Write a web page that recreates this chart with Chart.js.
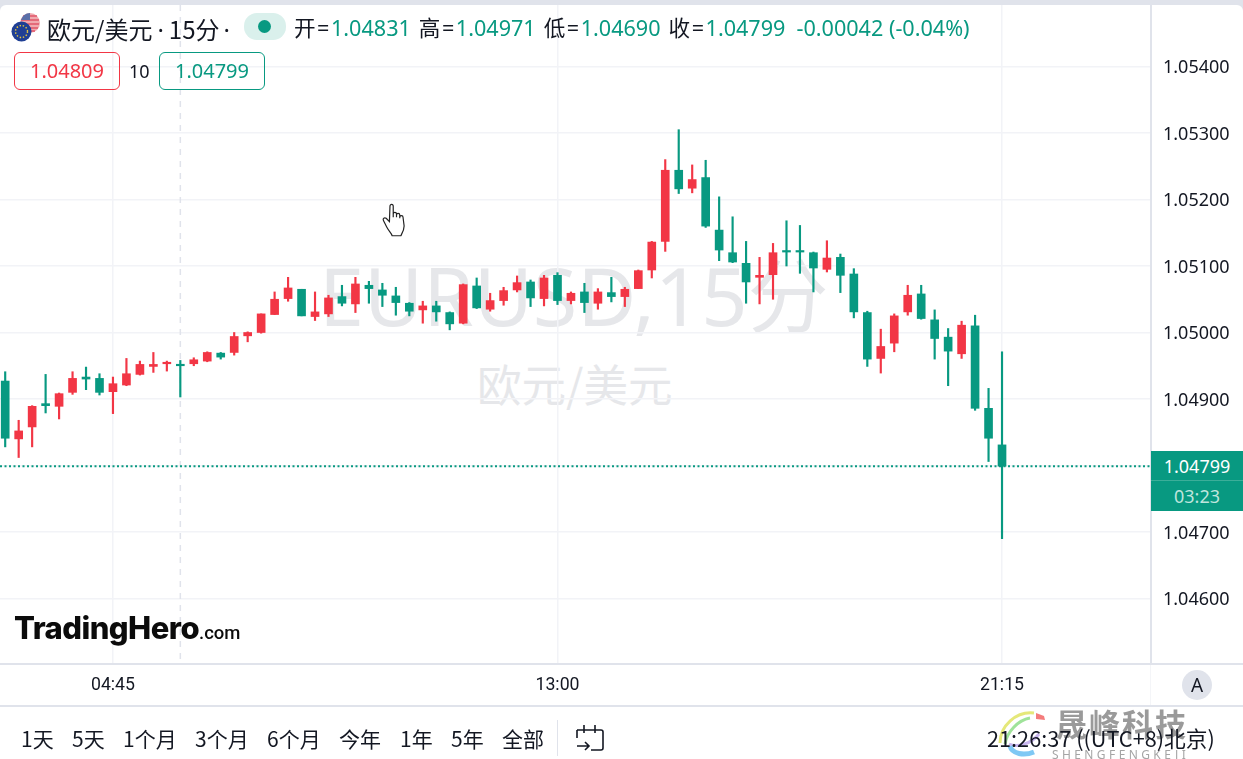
<!DOCTYPE html>
<html lang="zh-CN">
<head>
<meta charset="utf-8">
<title>EURUSD 15分</title>
<script src="https://cdn.jsdelivr.net/npm/chart.js@4"></script>
<style>
    html, body { margin: 0; padding: 0; background: #fff; }
    #page { position: relative; width: 1243px; height: 759px; overflow: hidden; background: #e0e3eb; }
    #panel { position: absolute; left: 0; top: 5px; width: 1243px; height: 754px; background: #fff; border-radius: 6px 6px 0 0; }
    #chart { position: absolute; left: 0; top: 0; }
    .t { position: absolute; white-space: nowrap; font-family: "Noto Sans", "Noto Sans CJK SC", sans-serif; color: #131722; }
    .line { position: absolute; background: #e0e3eb; }
    .up { color: #f23645; }
    .down { color: #089981; }
    .box { position: absolute; box-sizing: border-box; border: 1.5px solid; border-radius: 6px; height: 38px; text-align: center; font: 20px/35px "Noto Sans", sans-serif; }
    #ohlc b { font-weight: 400; letter-spacing: 1.5px; margin-left: 8px; }
    #ohlc b:first-child { margin-left: 0; }
</style>
</head>
<body>
<div id="page">
    <div id="panel"></div>
    <div class="t" style="left:319px;top:225px;font-size:81px;color:#e6e7ea;line-height:140px">EURUSD,15分</div>
    <div class="t" style="left:477px;top:350px;font-size:44.5px;color:#e6e7ea;line-height:66px;font-family:'Noto Sans CJK SC'">欧元/美元</div>
    <canvas id="chart" width="1243" height="759"></canvas>

    <div class="line" style="left:1150px;top:5px;width:2px;height:658px"></div>
    <div class="line" style="left:0;top:663px;width:1243px;height:2px"></div>
    <div class="line" style="left:0;top:705px;width:1243px;height:2px"></div>
    <div class="line" style="left:1150px;top:665px;width:1px;height:40px;background:#f4f5f8"></div>

    <svg style="position:absolute;left:9px;top:10px" width="34" height="34" viewBox="0 0 34 34">
        <circle cx="21" cy="13" r="10" fill="#f0a9ae"/>
        <path d="M14 6h14M12 10h18M12 14h18M13 18h16M16 21h10" stroke="#e0566a" stroke-width="1.5"/>
        <path d="M21 3a10 10 0 0 0-9 7h9z" fill="#5a6fa8"/>
        <circle cx="12.5" cy="21.5" r="10" fill="#1f3f94"/>
        <circle cx="12.5" cy="21.5" r="6" fill="none" stroke="#e8c83c" stroke-width="1.4" stroke-dasharray="1.4 1.8"/>
    </svg>
    <div class="t" style="left:47px;top:14px;font-size:24px;line-height:30px;font-family:'Noto Sans CJK SC'">欧元/美元<span style="font-family:'Noto Sans';margin:0 5px">·</span>15分<span style="font-family:'Noto Sans';margin-left:4px">·</span></div>
    <div style="position:absolute;left:244px;top:13px;width:42px;height:27px;border-radius:13px;background:#daf0ec"></div>
    <div style="position:absolute;left:258px;top:20px;width:13px;height:13px;border-radius:50%;background:#089981"></div>
    <div class="t" id="ohlc" style="left:294px;top:13px;font-size:21.6px;line-height:30px"></div>
    <div class="box up" style="left:14px;top:52px;width:106px;border-color:#f23645;">1.04809</div>
    <div class="t" style="left:129px;top:58px;font-size:18px;line-height:26px">10</div>
    <div class="box down" style="left:159px;top:52px;width:106px;border-color:#089981;">1.04799</div>

    <svg style="position:absolute;left:381px;top:202px" width="31" height="37" viewBox="0 0 28 34">
        <path d="M8 4c0-2.500 3-2.500 3 0v10l0-3c0-2 3-2 3 0v3l0-2c0-2 3-2 3 0v3l0-1c0-2 3-2 3 0l1 8c0 4-2 7-3 9h-8c-1-3-3-4-5-8l-3-6c-1-2 1-3 2.500-2l3 3z" fill="#fff" stroke="#222" stroke-width="1.1"/>
    </svg>

    <div class="t" id="logo" style="left:14px;top:604px;font-family:Inter;font-weight:800;font-size:31px;line-height:48px;letter-spacing:-0.55px;color:#0b0b0b">TradingHero<span style="font-family:Roboto;font-weight:500;font-size:18.5px;letter-spacing:0">.com</span></div>

    <div id="tag" style="position:absolute;left:1151px;top:451px;width:92px;height:60px;background:#089981;font-family:'Noto Sans';text-align:center;color:#fff">
        <div style="height:30px;line-height:30px;font-size:18px;border-bottom:1px solid #3bae99;box-sizing:border-box">1.04799</div>
        <div style="height:30px;line-height:30px;font-size:18px;color:#bfe5dd">03:23</div>
    </div>
    <div style="position:absolute;left:1182px;top:670px;width:30px;height:30px;border-radius:50%;background:#e0e3eb;font:19px/30px 'Noto Sans';text-align:center;color:#131722">A</div>

    <div id="ranges"></div>
    <div class="line" style="left:557px;top:720px;width:1px;height:36px"></div>
    <svg style="position:absolute;left:575px;top:722px" width="32" height="32" viewBox="0 0 32 32" fill="none" stroke="#131722" stroke-width="1.6">
        <path d="M2 8h24a2 2 0 0 1 2 2v16a2 2 0 0 1-2 2H16M2 8v8M9 3v8M20 3v8M2 24h12M10 20l4 4-4 4"/>
    </svg>

    <svg style="position:absolute;left:994px;top:708px" width="60" height="50" viewBox="0 0 60 50" fill="none" stroke-width="3">
        <path d="M6 35C6 18 22 3 40 5" stroke="#e5e87a"/>
        <path d="M11 36C13 24 24 12 36 10" stroke="#9fe39a"/>
        <path d="M42 5l8 3 1 4-9-1z" fill="#f47c7c" stroke="none"/>
        <path d="M15 36c8 4 22 0 30-10" stroke="#c9b6ef"/>
        <path d="M16 38c2 8 14 10 24 6" stroke="#7fc8f4" stroke-width="5"/>
    </svg>
    <div class="t" style="left:1056px;top:703px;font-size:31px;line-height:40px;font-weight:700;color:#9a9a9a;letter-spacing:2px;font-family:'Noto Sans CJK SC'">晟峰科技</div>
    <div class="t" style="left:1052px;top:747px;font-size:12px;line-height:16px;color:#a5a5a5;letter-spacing:3.4px">SHENGFENGKEJI</div>
    <div class="t" style="left:987px;top:724px;font-size:21.7px;line-height:28px;font-family:'Noto Sans CJK SC'">21:26:37 ((UTC+8)北京)</div>
</div>

<script>
    const times = [
        '02:45','03:00','03:15','03:30','03:45','04:00','04:15','04:30','04:45','05:00','05:15','05:30','05:45','06:00','06:15',
        '06:30','06:45','07:00','07:15','07:30','07:45','08:00','08:15','08:30','08:45','09:00','09:15','09:30','09:45','10:00',
        '10:15','10:30','10:45','11:00','11:15','11:30','11:45','12:00','12:15','12:30','12:45','13:00','13:15','13:30','13:45',
        '14:00','14:15','14:30','14:45','15:00','15:15','15:30','15:45','16:00','16:15','16:30','16:45','17:00','17:15','17:30',
        '17:45','18:00','18:15','18:30','18:45','19:00','19:15','19:30','19:45','20:00','20:15','20:30','20:45','21:00','21:15'
    ];
    const opens = [
        1.04927,1.04840,1.04858,1.04893,1.04889,1.04910,1.04933,1.04931,1.04911,1.04921,1.04937,1.04949,1.04953,1.04952,1.04953,
        1.04957,1.04969,1.04970,1.04995,1.05000,1.05027,1.05051,1.05065,1.05024,1.05028,1.05054,1.05043,1.05071,1.05064,1.05055,
        1.05044,1.05034,1.05040,1.05030,1.05014,1.05070,1.05035,1.05048,1.05064,1.05076,1.05051,1.05086,1.05048,1.05061,1.05044,
        1.05060,1.05054,1.05066,1.05094,1.05137,1.05244,1.05217,1.05233,1.05154,1.05120,1.05104,1.05083,1.05087,1.05123,1.05123,
        1.05120,1.05095,1.05113,1.05088,1.05030,1.04961,1.04984,1.05031,1.05058,1.05019,1.04993,1.04968,1.05010,1.04886,1.04831
    ];
    const highs = [
        1.04941,1.04868,1.04890,1.04937,1.04909,1.04941,1.04948,1.04938,1.04933,1.04961,1.04957,1.04970,1.04957,1.04958,1.04962,
        1.04971,1.04970,1.05000,1.05001,1.05028,1.05061,1.05083,1.05065,1.05061,1.05056,1.05071,1.05083,1.05077,1.05074,1.05068,
        1.05045,1.05047,1.05047,1.05031,1.05073,1.05082,1.05059,1.05068,1.05085,1.05079,1.05086,1.05090,1.05061,1.05074,1.05066,
        1.05083,1.05068,1.05094,1.05137,1.05260,1.05305,1.05252,1.05259,1.05204,1.05174,1.05137,1.05113,1.05134,1.05168,1.05161,
        1.05121,1.05138,1.05118,1.05096,1.05032,1.05005,1.05028,1.05071,1.05071,1.05034,1.05006,1.05017,1.05026,1.04916,1.04971
    ];
    const lows = [
        1.04828,1.04812,1.04828,1.04879,1.04870,1.04907,1.04914,1.04906,1.04878,1.04920,1.04936,1.04940,1.04942,1.04903,1.04950,
        1.04956,1.04960,1.04966,1.04986,1.04999,1.05027,1.05047,1.05025,1.05018,1.05024,1.05040,1.05030,1.05044,1.05039,1.05026,
        1.05025,1.05014,1.05017,1.05004,1.05013,1.05036,1.05032,1.05041,1.05061,1.05039,1.05040,1.05042,1.05043,1.05030,1.05035,
        1.05046,1.05039,1.05066,1.05082,1.05122,1.05209,1.05210,1.05158,1.05108,1.05105,1.05044,1.05043,1.05050,1.05100,1.05089,
        1.05061,1.05091,1.05060,1.05022,1.04949,1.04939,1.04971,1.05026,1.05020,1.04960,1.04920,1.04961,1.04883,1.04806,1.04690
    ];
    const closes = [
        1.04841,1.04852,1.04889,1.04890,1.04908,1.04931,1.04930,1.04910,1.04923,1.04938,1.04952,1.04952,1.04955,1.04950,1.04959,
        1.04970,1.04963,1.04994,1.05000,1.05028,1.05050,1.05067,1.05025,1.05031,1.05052,1.05044,1.05073,1.05066,1.05056,1.05045,
        1.05032,1.05040,1.05031,1.05013,1.05072,1.05037,1.05048,1.05063,1.05075,1.05052,1.05082,1.05048,1.05059,1.05045,1.05061,
        1.05054,1.05065,1.05093,1.05136,1.05244,1.05216,1.05230,1.05160,1.05124,1.05106,1.05076,1.05086,1.05120,1.05121,1.05121,
        1.05097,1.05112,1.05086,1.05031,1.04960,1.04979,1.05025,1.05056,1.05021,1.04991,1.04972,1.05011,1.04886,1.04841,1.04799
    ];
    const priceTicks = [1.046, 1.047, 1.048, 1.049, 1.05, 1.051, 1.052, 1.053, 1.054];
    const timeTicks = [8, 41, 74];
    const crosshairBar = 13;
    const lastPrice = 1.04799;
    const ranges = ['1天', '5天', '1个月', '3个月', '6个月', '今年', '1年', '5年', '全部'];
    const rangeLefts = [21, 72, 123, 195, 267, 339, 400, 451, 502];

    const upColor = '#f23645';
    const downColor = '#089981';
    const gridColor = '#f2f3f7';

    document.getElementById('ohlc').innerHTML =
        '<b>开=</b><span class="down">1.04831</span><b>高=</b><span class="down">1.04971</span><b>低=</b><span class="down">1.04690</span><b>收=</b><span class="down">1.04799</span><span class="down" style="margin-left:11px">-0.00042 (-0.04%)</span>';

    ranges.forEach((r, i) => {
        const el = document.createElement('div');
        el.className = 't';
        el.style.cssText = 'top:724px;line-height:28px;font-size:21px;font-family:"Noto Sans CJK SC";left:' + rangeLefts[i] + 'px';
        el.textContent = r;
        document.getElementById('ranges').appendChild(el);
    });

    const candleColors = opens.map((o, i) => closes[i] >= o ? upColor : downColor);

    const crosshair = {
        id: 'crosshair',
        beforeDatasetsDraw(chart) {
            const { ctx, chartArea, scales } = chart;
            const x = scales.x.getPixelForValue(crosshairBar);
            ctx.save();
            ctx.strokeStyle = '#e0e3eb';
            ctx.lineWidth = 1.5;
            ctx.setLineDash([6, 6]);
            ctx.beginPath();
            ctx.moveTo(x, chartArea.top);
            ctx.lineTo(x, chartArea.bottom);
            ctx.stroke();
            ctx.restore();
        }
    };

    new Chart(document.getElementById('chart').getContext('2d'), {
        type: 'bar',
        data: {
            datasets: [
                {
                    type: 'line',
                    data: [{ x: -0.386, y: lastPrice }, { x: 85.06, y: lastPrice }],
                    borderColor: downColor,
                    borderWidth: 2,
                    borderDash: [2, 2.5],
                    pointRadius: 0,
                    order: 0
                },
                {
                    label: 'body',
                    data: opens.map((o, i) => ({ x: i, y: [o, closes[i]] })),
                    backgroundColor: candleColors,
                    barThickness: 8,
                    minBarLength: 1.5,
                    grouped: false,
                    order: 1
                },
                {
                    label: 'wick',
                    data: lows.map((l, i) => ({ x: i, y: [l, highs[i]] })),
                    backgroundColor: candleColors,
                    barThickness: 1.5,
                    grouped: false,
                    order: 2
                }
            ]
        },
        options: {
            responsive: false,
            animation: false,
            layout: { padding: { top: 5 } },
            plugins: { legend: { display: false }, tooltip: { enabled: false } },
            scales: {
                x: {
                    type: 'linear',
                    offset: false,
                    min: -0.386,
                    max: 85.06,
                    afterBuildTicks: axis => { axis.ticks = timeTicks.map(v => ({ value: v })); },
                    afterFit: axis => {
                        axis.height = 96;
                        axis.paddingLeft = 0;
                        axis.paddingRight = 0;
                    },
                    border: { display: false },
                    grid: { color: gridColor, lineWidth: 1.5, drawTicks: false, offset: false },
                    ticks: {
                        autoSkip: false,
                        maxRotation: 0,
                        padding: 12,
                        color: '#131722',
                        font: { family: 'Roboto', size: 17.7 },
                        callback: v => times[v]
                    }
                },
                y: {
                    position: 'right',
                    min: 1.04503,
                    max: 1.054925,
                    afterBuildTicks: axis => { axis.ticks = priceTicks.map(v => ({ value: v })); },
                    afterFit: axis => {
                        axis.width = 92;
                        axis.paddingTop = 0;
                        axis.paddingBottom = 0;
                    },
                    border: { display: false },
                    grid: { color: gridColor, lineWidth: 1.5, drawTicks: false },
                    ticks: {
                        padding: 12,
                        crossAlign: 'near',
                        labelOffset: 1.5,
                        color: '#131722',
                        font: { family: 'Noto Sans', size: 18 },
                        callback: v => v.toFixed(5)
                    }
                }
            }
        },
        plugins: [crosshair]
    });
</script>
</body>
</html>
